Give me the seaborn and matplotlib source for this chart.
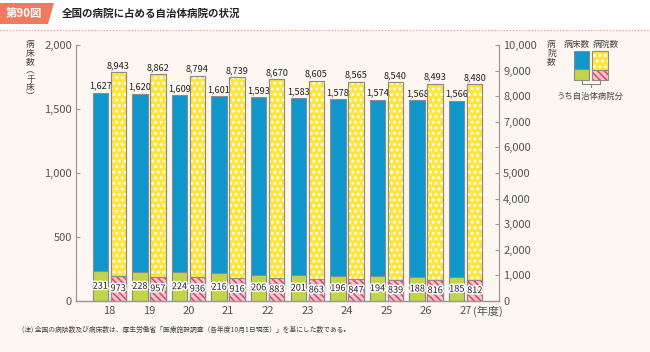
import matplotlib
matplotlib.use('Agg')
import matplotlib.pyplot as plt
import seaborn as sns
import pandas as pd
from matplotlib.patches import Polygon, Rectangle
from matplotlib.lines import Line2D
from matplotlib.container import BarContainer
import matplotlib.patheffects as pe

# ---- data ----
years = ['18', '19', '20', '21', '22', '23', '24', '25', '26', '27']
beds_total = [1627, 1620, 1609, 1601, 1593, 1583, 1578, 1574, 1568, 1566]
beds_local = [231, 228, 224, 216, 206, 201, 196, 194, 188, 185]
hosp_total = [8943, 8862, 8794, 8739, 8670, 8605, 8565, 8540, 8493, 8480]
hosp_local = [973, 957, 936, 916, 883, 863, 847, 839, 816, 812]
series_order = ['病床数', '病院数']

sns.set_theme(style='white')
plt.rcParams['font.family'] = ['Noto Sans CJK JP', 'DejaVu Sans']
plt.rcParams['hatch.linewidth'] = 1.0

BG = '#fef7f1'
BLUE = '#0f97cc'
GREEN = '#c4d448'
YELLOW = '#ffe43a'
PINKF = '#f7c4cf'
PINKL = '#e5405f'
EDGE = '#8c8c8c'
TXT = '#444444'
DOTS = '...'
STRIPES = '\\\\\\\\\\'

W, H = 650, 352
fig = plt.figure(figsize=(6.5, 3.52), dpi=100, facecolor=BG)


def fx(px):
    return px / W


def fy(py):
    return 1 - py / H


def dot_rect(xy, w, h, **kw):
    plt.rcParams['hatch.linewidth'] = 1.35
    r = Rectangle(xy, w, h, fill=False, hatch=DOTS, edgecolor='white', lw=0, **kw)
    plt.rcParams['hatch.linewidth'] = 1.0
    return r


def stripe_rect(xy, w, h, **kw):
    plt.rcParams['hatch.linewidth'] = 1.1
    r = Rectangle(xy, w, h, fill=False, hatch=STRIPES, edgecolor=PINKL, lw=0, **kw)
    plt.rcParams['hatch.linewidth'] = 1.0
    return r


# white header strip + dotted line
fig.patches.append(Rectangle((0, fy(30)), 1, 30 / H, transform=fig.transFigure,
                             facecolor='white', edgecolor='none', zorder=0))
fig.lines.append(Line2D([0, 1], [fy(30), fy(30)], transform=fig.transFigure,
                        color='#f09a86', lw=0.9, ls=(0, (1, 1.5))))
fig.patches.append(Polygon([(fx(0), fy(3)), (fx(54), fy(3)), (fx(48), fy(24)), (fx(0), fy(24))],
                           closed=True, transform=fig.transFigure,
                           facecolor='#f07a5c', edgecolor='none'))
fig.text(fx(24), fy(13.5), '第90図', color='white', fontsize=8.2, fontweight='bold',
         ha='center', va='center')
fig.text(fx(62), fy(14), '全国の病院に占める自治体病院の状況', color='#222222',
         fontsize=7.6, fontweight='bold', ha='left', va='center')

# ---- axes ----
ax = fig.add_axes([fx(76), fy(301), fx(499) - fx(76), (301 - 45) / H])
ax.set_facecolor(BG)
ax2 = ax.twinx()

df_beds_t = pd.DataFrame({'year': years, 'value': beds_total, 'series': series_order[0]})
df_beds_l = pd.DataFrame({'year': years, 'value': beds_local, 'series': series_order[0]})
df_hosp_t = pd.DataFrame({'year': years, 'value': hosp_total, 'series': series_order[1]})
df_hosp_l = pd.DataFrame({'year': years, 'value': hosp_local, 'series': series_order[1]})

common = dict(x='year', y='value', hue='series', hue_order=series_order, order=years,
              width=0.908, gap=0.14, dodge=True, errorbar=None, saturation=1,
              edgecolor=EDGE, linewidth=0.8, legend=False)


def draw(a, df, color):
    n0 = len(a.patches)
    sns.barplot(data=df, palette={series_order[0]: color, series_order[1]: color}, ax=a, **common)
    bars = sorted(list(a.patches)[n0:], key=lambda p: p.get_x())
    return BarContainer(bars, datavalues=list(df['value']), orientation='vertical')


c_bt = draw(ax, df_beds_t, BLUE)
c_bl = draw(ax, df_beds_l, GREEN)
c_ht = draw(ax2, df_hosp_t, YELLOW)
for p in c_ht:
    ax2.add_patch(dot_rect(p.get_xy(), p.get_width(), p.get_height()))
    ax2.add_patch(Rectangle(p.get_xy(), p.get_width(), p.get_height(), fill=False,
                            edgecolor=EDGE, lw=0.8))
c_hl = draw(ax2, df_hosp_l, PINKF)
for p in c_hl:
    ax2.add_patch(stripe_rect(p.get_xy(), p.get_width(), p.get_height()))
    ax2.add_patch(Rectangle(p.get_xy(), p.get_width(), p.get_height(), fill=False,
                            edgecolor=EDGE, lw=0.8))

# labels
lab_kw = dict(fontsize=6.6, color='#222222')
ax.bar_label(c_bt, labels=[f'{v:,}' for v in beds_total], padding=1.5, **lab_kw)
ax2.bar_label(c_ht, labels=[f'{v:,}' for v in hosp_total], padding=1.5, **lab_kw)
stroke = [pe.withStroke(linewidth=2.2, foreground='white')]
for t in ax.bar_label(c_bl, labels=[str(v) for v in beds_local], label_type='center', **lab_kw):
    t.set_path_effects(stroke)
for t in ax2.bar_label(c_hl, labels=[str(v) for v in hosp_local], label_type='center', **lab_kw):
    t.set_path_effects(stroke)

# scales
ax.set_xlim(-0.84, 9.84)
ax.set_ylim(0, 2000)
ax2.set_ylim(0, 10000)
ax.set_yticks([0, 500, 1000, 1500, 2000])
ax.set_yticklabels([f'{v:,}' for v in [0, 500, 1000, 1500, 2000]])
r_ticks = list(range(0, 10001, 1000))
ax2.set_yticks(r_ticks)
ax2.set_yticklabels([f'{v:,}' for v in r_ticks])
ax.set_xlabel('')
ax.set_ylabel('')
ax2.set_ylabel('')
ax2.set_xlabel('')

for a in (ax, ax2):
    for s in a.spines.values():
        s.set_color('#9a9a9a')
        s.set_linewidth(0.9)
    a.spines['top'].set_visible(False)
ax.spines['right'].set_visible(False)
ax2.spines['left'].set_visible(False)

ax.tick_params(axis='y', direction='in', length=3, width=0.8, color='#9a9a9a',
               labelsize=8, labelcolor='#555555', pad=3)
ax2.tick_params(axis='y', direction='in', length=3, width=0.8, color='#9a9a9a',
                labelsize=8, labelcolor='#555555', pad=3)
ax.tick_params(axis='x', length=0, labelsize=8, labelcolor='#555555', pad=3.5)
ax2.tick_params(axis='x', length=0, labelbottom=False)
ax.set_xticks(range(len(years)))
ax.set_xticklabels(years)
ax.annotate('(年度)', xy=(len(years) - 1, 0), xycoords=('data', 'axes fraction'),
            xytext=(5.5, -3.5), textcoords='offset points', ha='left', va='top',
            fontsize=8, color='#555555')

# axis titles (vertical, stacked)
fig.text(fx(30.5), fy(40), '病\n床\n数\n︵\n千\n床\n︶', fontsize=6.3, color=TXT,
         ha='center', va='top', linespacing=0.95)
fig.text(fx(551.5), fy(40), '病\n院\n数', fontsize=6.3, color=TXT,
         ha='center', va='top', linespacing=0.95)

# legend
fig.text(fx(576.5), fy(45), '病床数', fontsize=6.3, color=TXT, ha='center', va='center')
fig.text(fx(605.5), fy(45), '病院数', fontsize=6.3, color=TXT, ha='center', va='center')


def fig_rect(x0, y0, x1, y1, maker=None, **kw):
    xy = (fx(x0), fy(y1))
    w, h = fx(x1) - fx(x0), (y1 - y0) / H
    if maker is not None:
        r = maker(xy, w, h, transform=fig.transFigure)
    else:
        r = Rectangle(xy, w, h, transform=fig.transFigure, **kw)
    fig.patches.append(r)


fig_rect(573.5, 51, 589, 69, facecolor=BLUE, edgecolor=EDGE, lw=0.8)
fig_rect(573.5, 69, 589, 80, facecolor=GREEN, edgecolor=EDGE, lw=0.8)
fig_rect(591.5, 51, 607.5, 69.5, facecolor=YELLOW, edgecolor='none')
fig_rect(591.5, 51, 607.5, 69.5, maker=dot_rect)
fig_rect(591.5, 51, 607.5, 69.5, fill=False, edgecolor=EDGE, lw=0.8)
fig_rect(591.5, 69.5, 607.5, 80, facecolor=PINKF, edgecolor='none')
fig_rect(591.5, 69.5, 607.5, 80, maker=stripe_rect)
fig_rect(591.5, 69.5, 607.5, 80, fill=False, edgecolor=EDGE, lw=0.8)
for xs, ys in [([581.5, 581.5, 599.5, 599.5], [80, 83.5, 83.5, 80]), ([590.5, 590.5], [83.5, 87])]:
    fig.lines.append(Line2D([fx(v) for v in xs], [fy(v) for v in ys], transform=fig.transFigure,
                            color='#888888', lw=0.8))
fig.text(fx(590), fy(96), 'うち自治体病院分', fontsize=6, color=TXT, ha='center', va='center')

# footnote
fig.text(fx(22), fy(330), '(注) 全国の病院数及び病床数は、厚生労働省「医療施設調査（各年度10月1日現在）」を基にした数である。',
         fontsize=4.9, color=TXT, ha='left', va='center')

fig.savefig('out.png', dpi=100, facecolor=BG)
